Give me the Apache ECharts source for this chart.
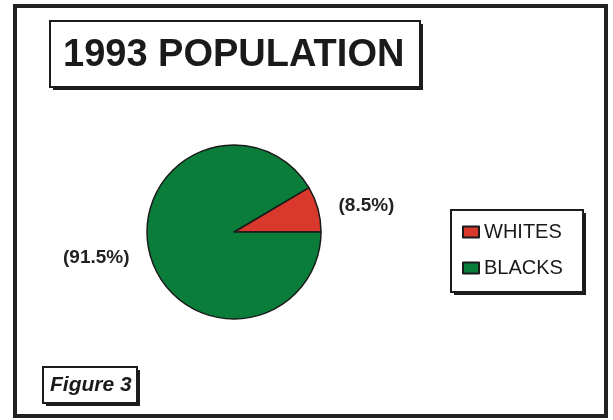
<!DOCTYPE html>
<html>
<head>
<meta charset="utf-8">
<script src="https://cdn.jsdelivr.net/npm/echarts@6/dist/echarts.min.js"></script>
<style>
html,body{margin:0;padding:0;background:#fff;}
#c{width:613px;height:420px;}
</style>
</head>
<body>
<div id="c"></div>
<script>
const categories = ['WHITES', 'BLACKS'];
const values = [8.5, 91.5];
const colors = ['#d8392c', '#0b7d3a'];
const titleText = '1993 POPULATION';
const figureText = 'Figure 3';

const chart = echarts.init(document.getElementById('c'), null, {renderer: 'canvas'});

function box(x, y, w, h, lw, sh) {
  return [
    {type: 'rect', z: 1, shape: {x: x + sh, y: y + sh, width: w, height: h}, style: {fill: '#1c1c1c'}},
    {type: 'rect', z: 1, shape: {x: x, y: y, width: w, height: h}, style: {fill: '#fff', stroke: '#1c1c1c', lineWidth: lw}}
  ];
}

const option = {
  backgroundColor: '#fff',
  animation: false,
  title: [
    {
      text: titleText, left: 63, top: 37, padding: 0,
      textStyle: {fontFamily: 'Liberation Sans, Arial, sans-serif', fontSize: 38, fontWeight: 'bold', color: '#1a1a1a'}
    },
    {
      text: figureText, left: 50, top: 375, padding: 0,
      textStyle: {fontFamily: 'Liberation Sans, Arial, sans-serif', fontSize: 21, fontWeight: 'bold', fontStyle: 'italic', color: '#1a1a1a'}
    }
  ],
  legend: {
    orient: 'vertical', left: 462, top: 222, padding: 0,
    itemWidth: 16, itemHeight: 11, itemGap: 16, icon: 'rect',
    data: categories,
    textStyle: {fontFamily: 'Liberation Sans, Arial, sans-serif', fontSize: 20, color: '#1a1a1a'}
  },
  graphic: [
    {type: 'rect', z: 0, shape: {x: 15, y: 6, width: 591, height: 410}, style: {fill: '#fff', stroke: '#222', lineWidth: 4}},
    ...box(50, 21, 370, 66, 2, 3),
    ...box(451, 210, 132, 82, 2, 3),
    ...box(43, 367, 94, 36, 2, 3)
  ],
  series: [{
    type: 'pie',
    center: [234, 232],
    radius: 87,
    startAngle: 30.6,
    clockwise: true,
    avoidLabelOverlap: false,
    z: 3,
    itemStyle: {borderColor: '#1a1a1a', borderWidth: 1.5},
    label: {
      show: true, position: 'outside', formatter: '({c}%)',
      fontFamily: 'Liberation Sans, Arial, sans-serif', fontSize: 19, fontWeight: 'bold', color: '#222'
    },
    labelLine: {show: false, length: 12, length2: 4},
    emphasis: {disabled: true},
    data: categories.map((n, i) => ({
      name: n, value: values[i], itemStyle: {color: colors[i]},
      label: i === 1 ? {padding: [12, 0, 0, 0]} : {padding: [0, 0, 2, 0]}
    }))
  }]
};
chart.setOption(option);
</script>
</body>
</html>
